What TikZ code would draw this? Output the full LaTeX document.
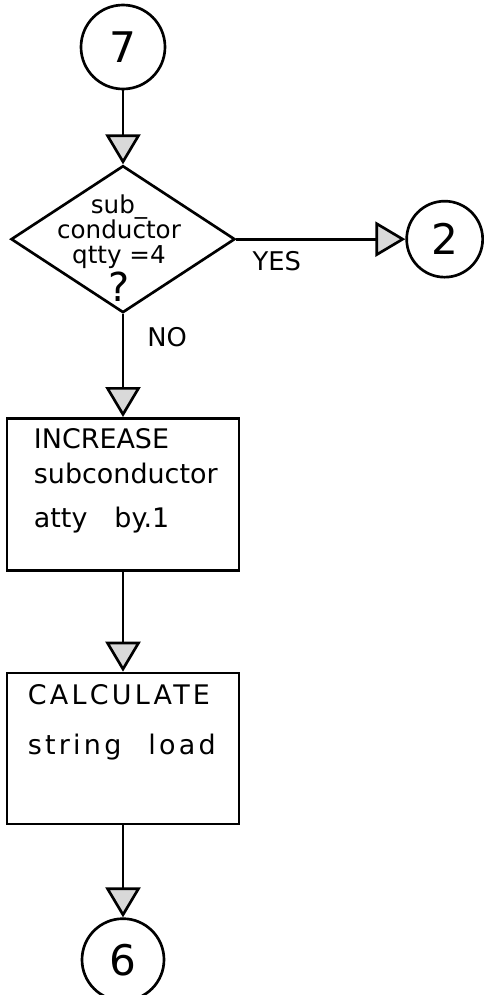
\documentclass[tikz,border=0pt]{standalone}
\usepackage{fontspec}
\setsansfont{DejaVu Sans}
\usetikzlibrary{shapes.geometric,arrows.meta,positioning}
\tikzset{
  conn/.style={circle, draw, line width=0.8mm, minimum size=24.6mm, inner sep=0pt,
    font=\sffamily\fontsize{36}{36}\selectfont},
  decision/.style={diamond, draw, line width=0.8mm, minimum width=67.2mm,
    minimum height=44.1mm, inner sep=0pt},
  process/.style={rectangle, draw, line width=0.8mm, minimum width=69.6mm,
    minimum height=45.6mm, inner sep=0pt},
  boxtext/.style={anchor=north west, inner sep=0pt, align=left,
    font=\sffamily\fontsize{23}{30}\selectfont},
  asktext/.style={inner sep=0pt, align=center, font=\sffamily\fontsize{21}{21.5}\selectfont},
  answer/.style={inner sep=0pt, font=\sffamily\fontsize{22}{22}\selectfont},
  flow/.style={line width=0.8mm, -{Triangle[width=10.5mm, length=9mm, fill=gray!30]}}
}
\begin{document}
\begin{tikzpicture}[x=0.3mm, y=-0.3mm]
\useasboundingbox (0,0) rectangle (483,995);
\node[conn, minimum size=25.2mm] (c7) at (123,47) {7};
\node[decision, below=22.2mm of c7] (q) {};
\node[asktext] (qt) at ([xshift=-1.2mm, yshift=-2.7mm]q.center)
  {sub\_\\conductor\\qtty =4\\[2pt]{\fontsize{34}{34}\selectfont ?}};
\node[conn, minimum size=22.8mm, right=50.7mm of q] (c2) {2};
\node[process, below=30.9mm of q] (b1) {};
\node[boxtext] (t1) at ([xshift=8.4mm, yshift=-3.4mm]b1.north west)
  {INCREASE\\subconductor\\[7pt]atty\quad by.1};
\node[process, minimum height=45.3mm, below=30mm of b1] (b2) {};
\node[boxtext] (t2) at ([xshift=6.6mm, yshift=-3.9mm]b2.north west)
  {\addfontfeature{LetterSpace=12}CALCULATE\\[12pt]
   \addfontfeature{LetterSpace=12}string\quad load};
\node[conn, below=27.6mm of b2] (c6) {6};

\draw[flow] (c7) -- (q);
\draw[flow] (q) -- node[answer, below=3.3mm, pos=0.24] (yes) {YES} (c2);
\draw[flow] (q) -- node[answer, right=6.9mm, pos=0.22] (no) {NO} (b1);
\draw[flow] (b1) -- (b2);
\draw[flow] (b2) -- (c6);
\end{tikzpicture}
\end{document}
